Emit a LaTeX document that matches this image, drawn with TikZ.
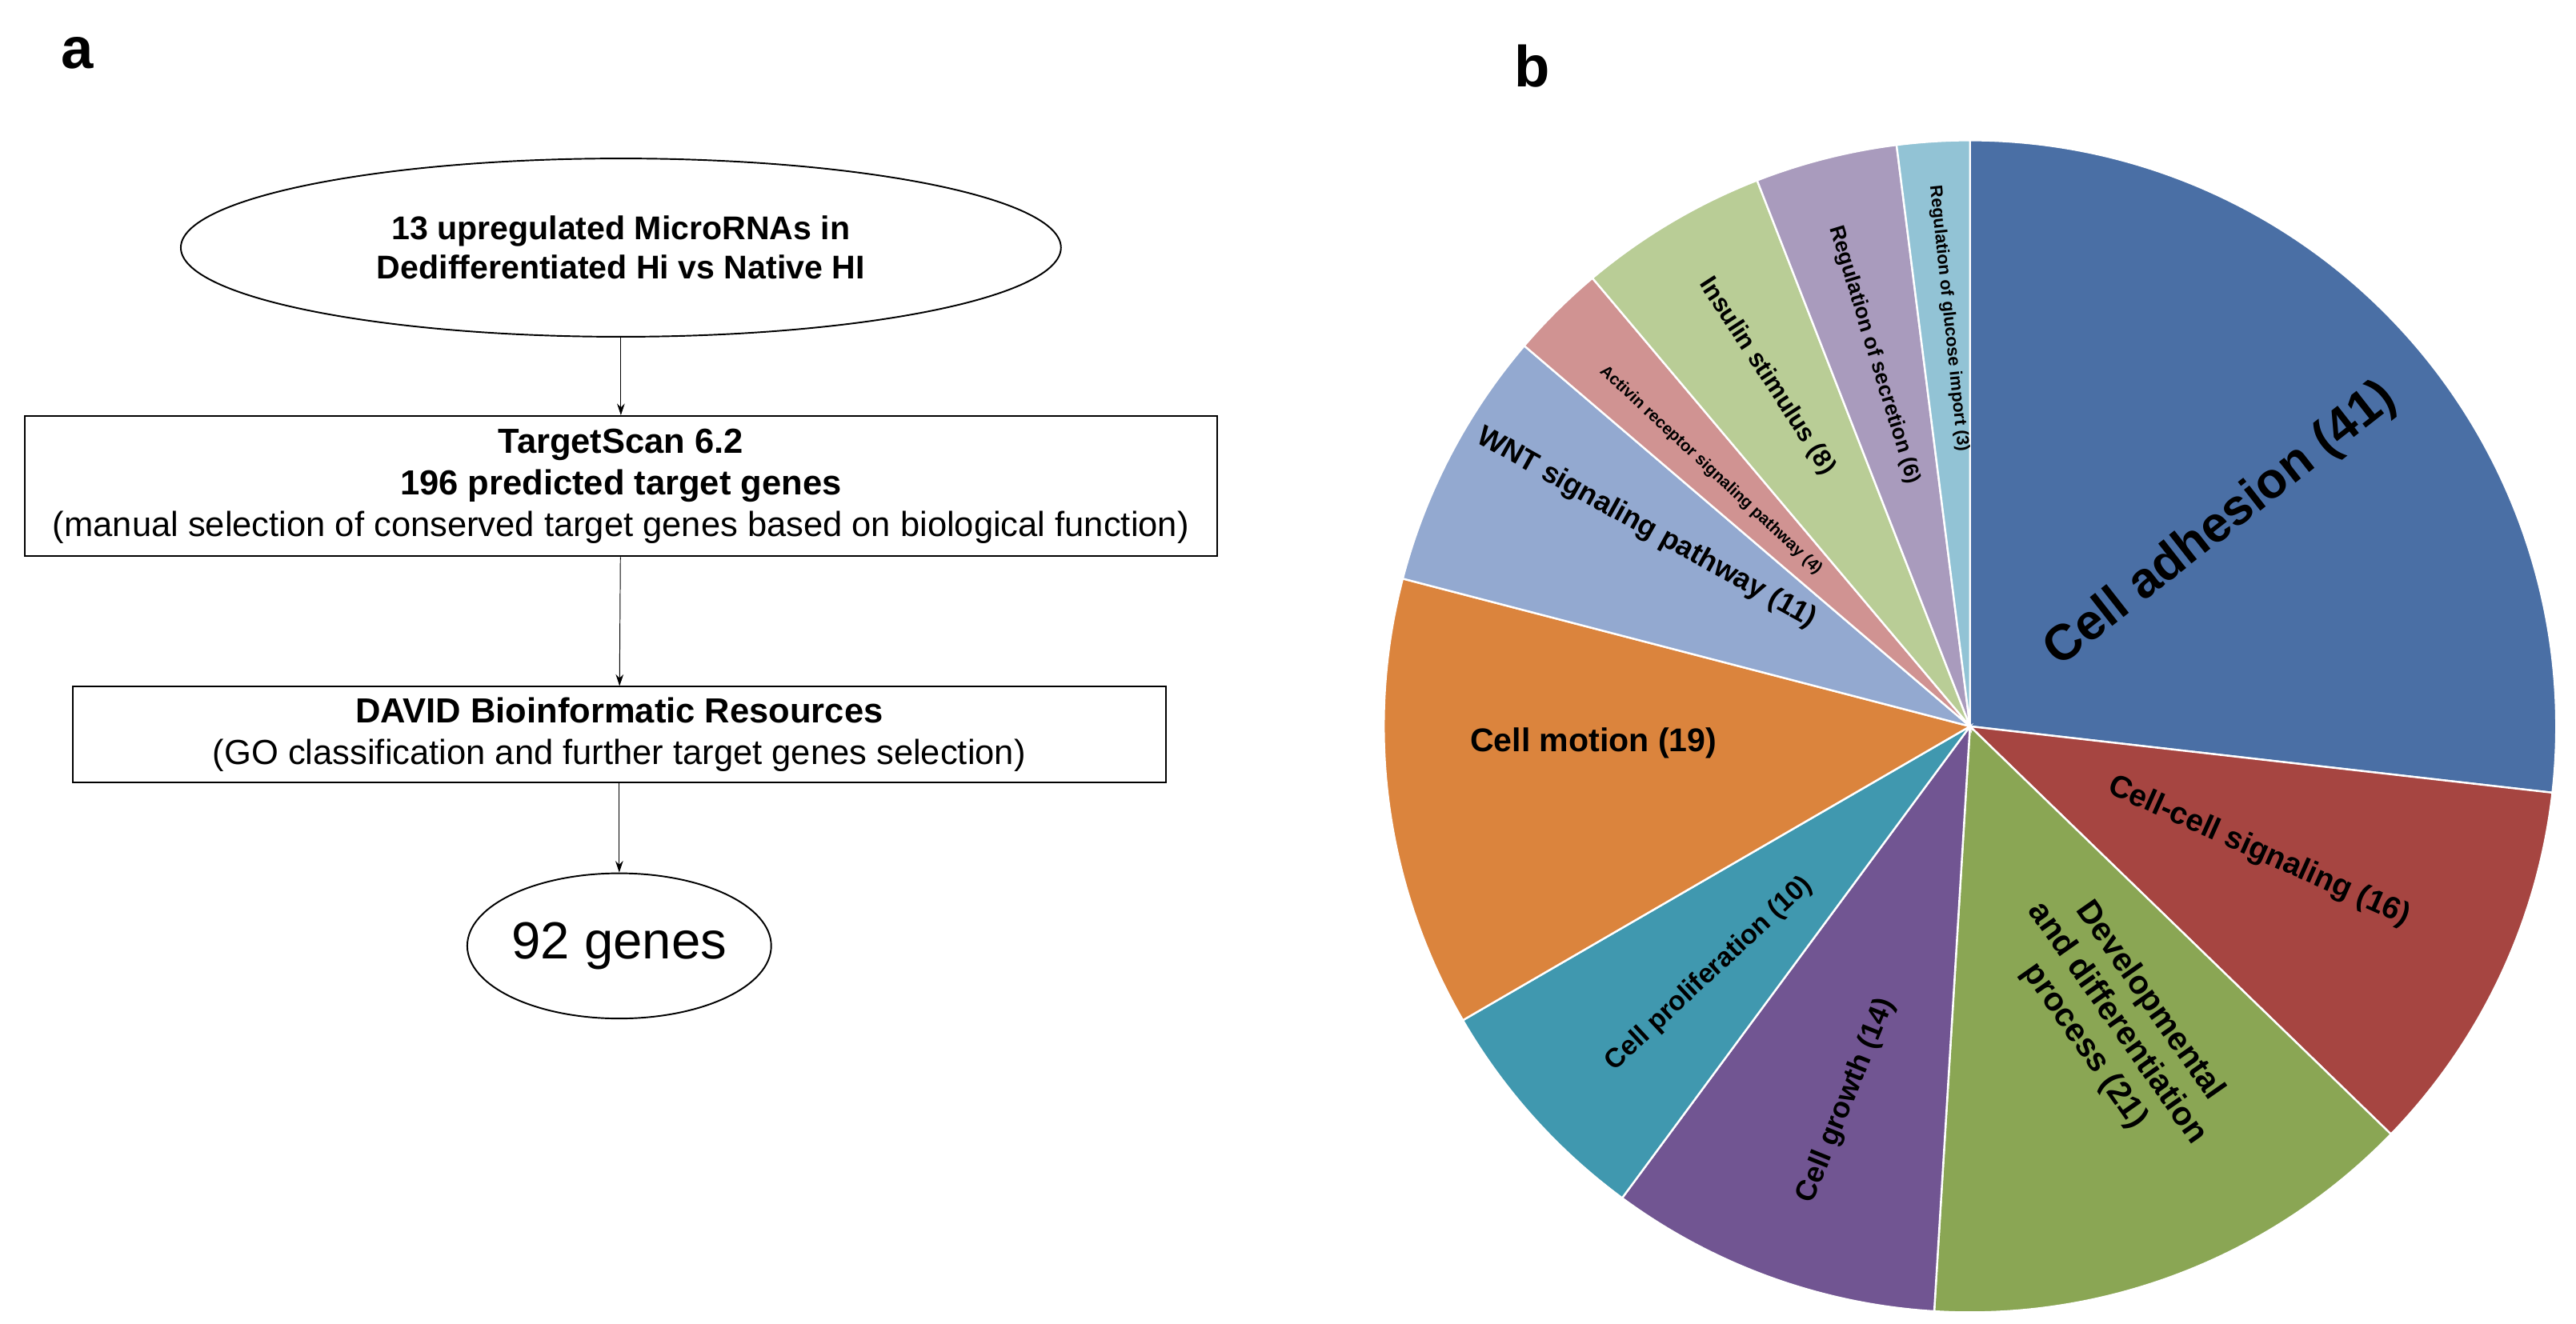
\documentclass[tikz,border=0pt]{standalone}
\usepackage{fontspec}
\setmainfont{Liberation Sans}
\usetikzlibrary{arrows.meta,shapes.geometric}
\definecolor{cA}{HTML}{4A6FA5}\definecolor{cB}{HTML}{A64541}\definecolor{cC}{HTML}{8AA654}
\definecolor{cD}{HTML}{715592}\definecolor{cE}{HTML}{4098AF}\definecolor{cF}{HTML}{DB843D}
\definecolor{cG}{HTML}{93A9D0}\definecolor{cH}{HTML}{D09392}\definecolor{cI}{HTML}{B9CD96}
\definecolor{cJ}{HTML}{A99BBD}\definecolor{cK}{HTML}{92C3D5}
\newcommand{\fs}[1]{\fontsize{#1pt}{\dimexpr #1pt*6/5\relax}\selectfont}
\begin{document}
\begin{tikzpicture}[x=0.3mm,y=-0.3mm,
  box/.style={draw,thick,align=center,inner sep=0pt},
  arr/.style={-{Stealth[length=6pt,width=4pt]},thin},
  plab/.style={align=center,inner sep=0pt}]
\useasboundingbox (0,0) rectangle (1560,802);
\node[font=\bfseries\fs{30}] (la) at (47,32) {a};
\node[font=\bfseries\fs{30}] (lb) at (928,40) {b};
% flowchart
\node[box,ellipse,minimum width=533*0.3mm,minimum height=108*0.3mm,font=\bfseries\fs{17}] (e1) at (376,150)
  {13 upregulated MicroRNAs in\\Dedifferentiated Hi vs Native HI};
\node[box,minimum width=722*0.3mm,minimum height=85*0.3mm,font=\fs{18}] (b1) at (376,294.5)
  {\textbf{TargetScan 6.2}\\\textbf{196 predicted target genes}\\(manual selection of conserved target genes based on biological function)};
\node[box,minimum width=662*0.3mm,minimum height=58*0.3mm,font=\fs{18}] (b2) at (375,445)
  {\textbf{DAVID Bioinformatic Resources}\\(GO classification and further target genes selection)};
\node[box,ellipse,minimum width=145*0.3mm,minimum height=88*0.3mm,inner sep=0pt,font=\fs{27}] (e2) at (375,573) {92 genes};
\draw[arr] (e1) -- (b1);
\draw[arr] (b1) -- (b2);
\draw[arr] (b2) -- (e2);
% pie
\coordinate (c) at (1193,440);
\def\R{355}
\foreach \a/\b/\col in {90/-6.5/cA,-6.5/-44.1/cB,-44.1/-93.5/cC,-93.5/-126.4/cD,-126.4/-149.9/cE,
  -149.9/-194.6/cF,-194.6/-220.5/cG,-220.5/-229.9/cH,-229.9/-248.7/cI,-248.7/-262.8/cJ,-262.8/-270/cK}{
  \fill[\col,draw=white,line width=1pt] (c) -- ++(\a:\R*0.3mm) arc[start angle=\a,end angle=\b,radius=\R*0.3mm] -- cycle;
}
\node[plab,font=\bfseries\fs{26},rotate=38] (p1) at (1345,318) {Cell adhesion (41)};
\node[plab,font=\bfseries\fs{16},rotate=-24] (p2) at (1368,516) {Cell-cell signaling (16)};
\node[plab,font=\bfseries\fs{17},rotate=-55] (p3) at (1282,620) {Developmental\\and differentiation\\process (21)};
\node[plab,font=\bfseries\fs{15},rotate=68] (p4) at (1118,667) {Cell growth (14)};
\node[plab,font=\bfseries\fs{14},rotate=43] (p5) at (1035,590) {Cell proliferation (10)};
\node[plab,font=\bfseries\fs{17}] (p6) at (965,450) {Cell motion (19)};
\node[plab,font=\bfseries\fs{15},rotate=-29] (p7) at (997,320) {WNT signaling pathway (11)};
\node[plab,font=\bfseries\fs{8.5},rotate=-43] (p8) at (1036,285) {Activin receptor signaling pathway (4)};
\node[plab,font=\bfseries\fs{13},rotate=-57] (p9) at (1070,228) {Insulin stimulus (8)};
\node[plab,font=\bfseries\fs{11},rotate=-73] (p10) at (1135,215) {Regulation of secretion (6)};
\node[plab,font=\bfseries\fs{9},rotate=-84] (p11) at (1180,193) {Regulation of glucose import (3)};
\end{tikzpicture}
\end{document}
